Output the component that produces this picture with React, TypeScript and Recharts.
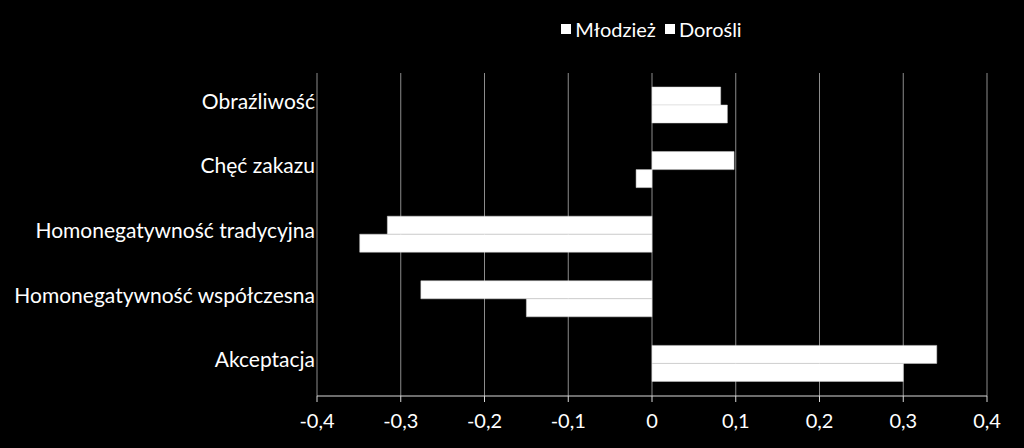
import React from 'react';
import {
  BarChart,
  Bar,
  XAxis,
  YAxis,
  CartesianGrid,
  Legend,
} from 'recharts';

const categories = [
  'Obraźliwość',
  'Chęć zakazu',
  'Homonegatywność tradycyjna',
  'Homonegatywność współczesna',
  'Akceptacja',
];
const seriesNames = ['Młodzież', 'Dorośli'];
const mlodziez = [0.082, 0.098, -0.316, -0.276, 0.34];
const dorosli = [0.09, -0.019, -0.349, -0.15, 0.3];
const xTicks = [-0.4, -0.3, -0.2, -0.1, 0, 0.1, 0.2, 0.3, 0.4];

const data = categories.map((name, i) => ({
  name,
  mlodziez: mlodziez[i],
  dorosli: dorosli[i],
}));

const font = "Lato, 'Open Sans', sans-serif";
const fmt = (v: number) => String(v).replace('.', ',');

function LegendBox() {
  return (
    <div
      style={{
        display: 'flex',
        justifyContent: 'center',
        height: 24,
        fontSize: 20,
        color: '#fff',
        fontFamily: font,
        lineHeight: '24px',
      }}
    >
      {seriesNames.map((n) => (
        <span key={n} style={{ display: 'flex', alignItems: 'center', marginRight: 9 }}>
          <span
            style={{
              width: 10,
              height: 10,
              background: '#fff',
              display: 'inline-block',
              marginRight: 4,
            }}
          />
          {n}
        </span>
      ))}
    </div>
  );
}

export default function App() {
  return (
    <div style={{ width: 1024, height: 448, background: '#000' }}>
      <style>{`body{margin:0;background:#000}`}</style>
      <BarChart
        width={1024}
        height={448}
        data={data}
        layout="vertical"
        margin={{ top: 49, right: 37, left: 8, bottom: 12 }}
        barGap={0}
        barSize={18}
        style={{ fontFamily: font }}
      >
        <CartesianGrid horizontal={false} stroke="#8c8c8c" strokeWidth={1} />
        <XAxis
          type="number"
          domain={[-0.4, 0.4]}
          ticks={xTicks}
          tickFormatter={fmt}
          tick={{ fill: '#fff', fontSize: 20 }}
          axisLine={{ stroke: '#d9d9d9' }}
          tickLine={{ stroke: '#d9d9d9' }}
          tickSize={6}
          tickMargin={12}
          height={40}
          allowDataOverflow
        />
        <YAxis
          type="category"
          dataKey="name"
          width={309}
          tick={{ fill: '#fff', fontSize: 21, dy: -4 }}
          axisLine={false}
          tickLine={false}
          tickMargin={2}
          tickSize={0}
        />
        <Legend
          verticalAlign="top"
          align="center"
          content={<LegendBox />}
          wrapperStyle={{ top: 17, left: 306, width: 700 }}
        />
        <Bar
          dataKey="mlodziez"
          name={seriesNames[0]}
          fill="#fff"
          stroke="#d0d0d0"
          strokeWidth={0.5}
          isAnimationActive={false}
        />
        <Bar
          dataKey="dorosli"
          name={seriesNames[1]}
          fill="#fff"
          stroke="#d0d0d0"
          strokeWidth={0.5}
          isAnimationActive={false}
        />
      </BarChart>
    </div>
  );
}
